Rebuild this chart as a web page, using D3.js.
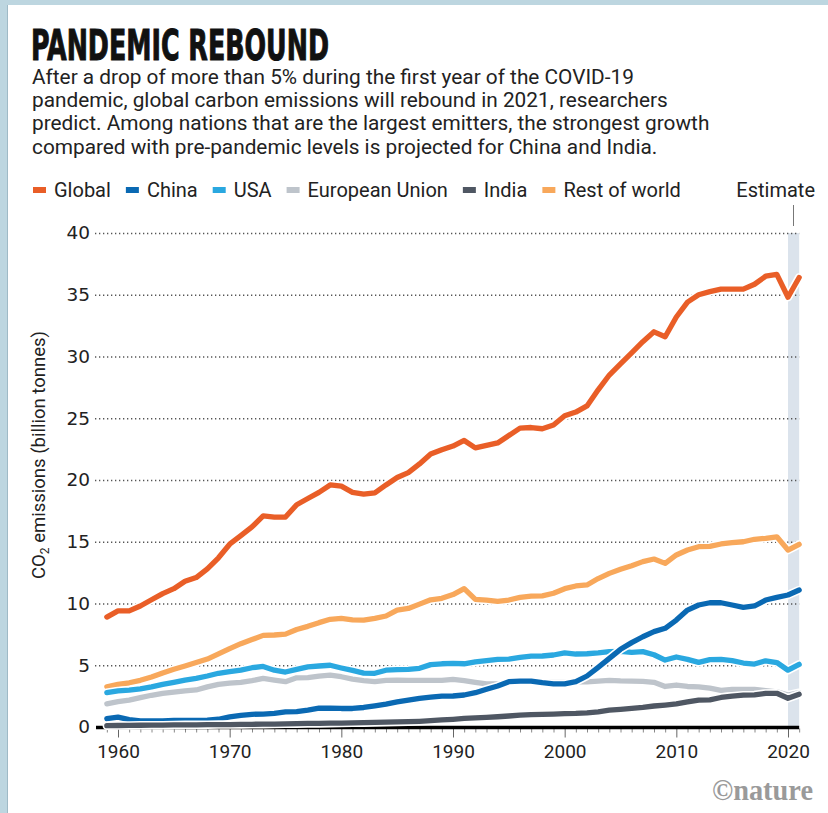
<!DOCTYPE html>
<html>
<head>
<meta charset="utf-8">
<script src="https://cdn.jsdelivr.net/npm/d3@7"></script>
<style>
  html, body { margin: 0; padding: 0; background: #fff; }
  svg { display: block; }
</style>
</head>
<body>
<svg id="chart"></svg>
<script>
// years 1959 - 2021
var years = d3.range(1959, 2022);

var globalVals = [8.9, 9.4, 9.4, 9.8, 10.3, 10.8, 11.2, 11.8, 12.1, 12.8, 13.7,
  14.8, 15.5, 16.2, 17.1, 17.0, 17.0, 18.0, 18.5, 19.0, 19.6,
  19.5, 19.0, 18.85, 18.95, 19.6, 20.2, 20.6, 21.3, 22.1, 22.45,
  22.75, 23.2, 22.6, 22.8, 23.0, 23.6, 24.2, 24.25, 24.15, 24.45,
  25.2, 25.5, 26.0, 27.3, 28.5, 29.4, 30.3, 31.2, 32.0, 31.6,
  33.2, 34.4, 35.0, 35.25, 35.45, 35.45, 35.45, 35.85, 36.5, 36.65,
  34.8, 36.4];

var chinaVals = [0.67, 0.8, 0.6, 0.5, 0.5, 0.5, 0.53, 0.54, 0.54, 0.55, 0.63,
  0.82, 0.95, 1.03, 1.05, 1.1, 1.22, 1.24, 1.37, 1.53, 1.52,
  1.5, 1.5, 1.58, 1.72, 1.86, 2.03, 2.17, 2.32, 2.42, 2.5,
  2.51, 2.59, 2.78, 3.05, 3.32, 3.67, 3.72, 3.72, 3.59, 3.5,
  3.5, 3.67, 4.13, 4.83, 5.56, 6.29, 6.83, 7.31, 7.72, 7.99,
  8.66, 9.47, 9.88, 10.06, 10.06, 9.88, 9.69, 9.8, 10.28, 10.5,
  10.69, 11.09];

var usaVals = [2.78, 2.92, 2.98, 3.08, 3.25, 3.45, 3.62, 3.8, 3.94, 4.13, 4.35,
  4.48, 4.6, 4.8, 4.9, 4.6, 4.45, 4.67, 4.87, 4.94, 5.0,
  4.78, 4.58, 4.36, 4.35, 4.6, 4.65, 4.67, 4.75, 5.05, 5.12,
  5.15, 5.12, 5.27, 5.37, 5.48, 5.5, 5.64, 5.74, 5.75, 5.83,
  6.0, 5.91, 5.93, 6.0, 6.1, 6.12, 6.04, 6.1, 5.85, 5.42,
  5.67, 5.48, 5.23, 5.46, 5.48, 5.37, 5.18, 5.1, 5.36, 5.22,
  4.6, 5.07];

var euVals = [1.88, 2.05, 2.18, 2.38, 2.57, 2.72, 2.82, 2.93, 3.0, 3.25, 3.45,
  3.55, 3.62, 3.75, 3.93, 3.8, 3.67, 3.98, 4.0, 4.12, 4.2,
  4.07, 3.88, 3.76, 3.68, 3.78, 3.8, 3.78, 3.78, 3.77, 3.78,
  3.86, 3.76, 3.62, 3.5, 3.48, 3.6, 3.72, 3.67, 3.67, 3.62,
  3.62, 3.67, 3.66, 3.72, 3.78, 3.73, 3.72, 3.7, 3.62, 3.28,
  3.4, 3.28, 3.25, 3.14, 2.96, 3.04, 3.05, 3.05, 2.95, 2.85,
  2.58, 2.78];

var indiaVals = [0.11, 0.12, 0.13, 0.14, 0.15, 0.15, 0.17, 0.18, 0.18, 0.19, 0.2,
  0.2, 0.21, 0.22, 0.23, 0.24, 0.26, 0.27, 0.29, 0.29, 0.31,
  0.32, 0.34, 0.35, 0.37, 0.39, 0.41, 0.43, 0.46, 0.51, 0.57,
  0.62, 0.69, 0.74, 0.78, 0.83, 0.89, 0.96, 1.01, 1.02, 1.05,
  1.09, 1.1, 1.15, 1.23, 1.36, 1.43, 1.51, 1.59, 1.7, 1.78,
  1.87, 2.03, 2.18, 2.2, 2.39, 2.5, 2.58, 2.6, 2.72, 2.73,
  2.33, 2.65];

var restVals = [3.26, 3.45, 3.58, 3.78, 4.05, 4.38, 4.68, 4.94, 5.22, 5.5, 5.92,
  6.35, 6.75, 7.08, 7.42, 7.45, 7.52, 7.9, 8.15, 8.45, 8.72,
  8.8, 8.68, 8.66, 8.8, 8.99, 9.47, 9.6, 9.95, 10.3, 10.42,
  10.72, 11.2, 10.34, 10.28, 10.18, 10.28, 10.5, 10.6, 10.62, 10.83,
  11.2, 11.42, 11.5, 12.02, 12.44, 12.77, 13.06, 13.39, 13.6, 13.25,
  13.93, 14.33, 14.6, 14.62, 14.82, 14.92, 15.0, 15.2, 15.28, 15.4,
  14.33, 14.79];

var legendNames = ["Global", "China", "USA", "European Union", "India", "Rest of world"];
var yTicks = [0, 5, 10, 15, 20, 25, 30, 35, 40];
var xTicks = [1960, 1970, 1980, 1990, 2000, 2010, 2020];
var estimateYears = [2020, 2021];

var subtitle = [
  "After a drop of more than 5% during the first year of the COVID-19",
  "pandemic, global carbon emissions will rebound in 2021, researchers",
  "predict. Among nations that are the largest emitters, the strongest growth",
  "compared with pre-pandemic levels is projected for China and India."
];

var colors = {
  "Global": "#e95e27",
  "China": "#0a69b3",
  "USA": "#2aa8e0",
  "European Union": "#bec4cb",
  "India": "#4f5763",
  "Rest of world": "#f8a85b"
};

var W = 828, H = 813;
var svg = d3.select("#chart").attr("width", W).attr("height", H);
var font = "Roboto, 'Open Sans', sans-serif";

// frame
svg.append("rect").attr("x", 0).attr("y", 0).attr("width", W).attr("height", H).attr("fill", "#fff");
svg.append("rect").attr("x", 0).attr("y", 0).attr("width", W).attr("height", 5).attr("fill", "#bdd6e0");
svg.append("rect").attr("x", 0).attr("y", 0).attr("width", 7).attr("height", H).attr("fill", "#bdd6e0");
svg.append("line").attr("x1", 7.5).attr("x2", 7.5).attr("y1", 5).attr("y2", H)
  .attr("stroke", "#9fbac6").attr("stroke-width", 1);

// title
svg.append("text")
  .attr("x", 31).attr("y", 60)
  .attr("font-family", "'DejaVu Sans Condensed', 'DejaVu Sans', sans-serif")
  .attr("font-weight", "bold")
  .attr("font-size", 42)
  .attr("fill", "#111")
  .attr("stroke", "#111")
  .attr("stroke-width", 1)
  .attr("textLength", 298)
  .attr("lengthAdjust", "spacingAndGlyphs")
  .text("PANDEMIC REBOUND");

svg.append("g").selectAll("text")
  .data(subtitle)
  .enter().append("text")
    .attr("x", 32)
    .attr("y", function(d, i) { return 84 + i * 23.2; })
    .attr("font-family", font)
    .attr("font-size", 20.8)
    .attr("fill", "#222")
    .text(function(d) { return d; });

// scales
var x = d3.scaleLinear().domain([1960, 2020]).range([118, 788]);
var y = d3.scaleLinear().domain([0, 40]).range([727, 233]);

// estimate band
svg.append("rect")
  .attr("x", x(estimateYears[0]))
  .attr("y", y(40))
  .attr("width", x(estimateYears[1]) - x(estimateYears[0]))
  .attr("height", y(0) - y(40))
  .attr("fill", "#dbe3ec");

// gridlines
var grid = svg.append("g")
  .attr("transform", "translate(95,0)")
  .call(d3.axisLeft(y).tickValues(yTicks.slice(1)).tickSize(-(x(2021) - 95)).tickFormat(""));
grid.select(".domain").remove();
grid.selectAll("line")
  .attr("stroke", "#555")
  .attr("stroke-width", 1.3)
  .attr("stroke-dasharray", "1.3,2.7");

// y labels
var yAxis = svg.append("g")
  .attr("transform", "translate(90,0)")
  .call(d3.axisLeft(y).tickValues(yTicks).tickSize(0).tickPadding(0));
yAxis.select(".domain").remove();
yAxis.selectAll("text")
  .attr("font-family", "'DejaVu Sans', sans-serif")
  .attr("font-size", 18.5)
  .attr("fill", "#222");

// y title
var yt = svg.append("text")
  .attr("transform", "translate(45,455) rotate(-90)")
  .attr("text-anchor", "middle")
  .attr("font-family", font)
  .attr("font-size", 18.5)
  .attr("fill", "#222");
yt.append("tspan").text("CO");
yt.append("tspan").attr("font-size", 12).attr("dy", 4).text("2");
yt.append("tspan").attr("dy", -4).text(" emissions (billion tonnes)");

// x axis ticks
var xAxis = svg.append("g")
  .attr("transform", "translate(0," + (y(0) + 1.5) + ")")
  .call(d3.axisBottom(x).tickValues(years).tickSize(4).tickFormat(""));
xAxis.select(".domain").remove();
xAxis.selectAll("line").attr("stroke", "#888").attr("stroke-width", 1);
xAxis.selectAll(".tick")
  .filter(function(d) { return d % 10 === 0; })
  .select("line").attr("y2", 9).attr("stroke", "#666");

var xLabels = svg.append("g")
  .attr("transform", "translate(0," + (y(0) + 14) + ")")
  .call(d3.axisBottom(x).tickValues(xTicks).tickSize(0).tickFormat(d3.format("d")));
xLabels.select(".domain").remove();
xLabels.selectAll("text")
  .attr("font-family", font)
  .attr("font-size", 19)
  .attr("fill", "#222");

// baseline
svg.append("line")
  .attr("x1", 96).attr("x2", x(2021))
  .attr("y1", y(0) + 0.5).attr("y2", y(0) + 0.5)
  .attr("stroke", "#000").attr("stroke-width", 3.5);

// lines
var series = [
  {name: "Rest of world", values: restVals},
  {name: "European Union", values: euVals},
  {name: "USA", values: usaVals},
  {name: "China", values: chinaVals},
  {name: "India", values: indiaVals},
  {name: "Global", values: globalVals}
];

var line = d3.line()
  .x(function(d, i) { return x(years[i]); })
  .y(function(d) { return y(d); });

var lines = svg.append("g");
series.forEach(function(s) {
  lines.append("path")
    .attr("d", line(s.values))
    .attr("fill", "none")
    .attr("stroke", "#fff")
    .attr("stroke-width", 8.5)
    .attr("stroke-linejoin", "round")
    .attr("stroke-linecap", "round");
  lines.append("path")
    .attr("d", line(s.values))
    .attr("fill", "none")
    .attr("stroke", colors[s.name])
    .attr("stroke-width", 5.3)
    .attr("stroke-linejoin", "round")
    .attr("stroke-linecap", "round");
});

// legend
var legend = svg.append("g").attr("transform", "translate(33,190)");
var lx = 0;
legendNames.forEach(function(n) {
  legend.append("rect")
    .attr("x", lx).attr("y", -3)
    .attr("width", 13).attr("height", 6)
    .attr("fill", colors[n]);
  var t = legend.append("text")
    .attr("x", lx + 21).attr("y", 7)
    .attr("font-family", font)
    .attr("font-size", 20)
    .attr("fill", "#222")
    .text(n);
  lx += 21 + t.node().getComputedTextLength() + 15;
});

svg.append("text")
  .attr("x", 815).attr("y", 197)
  .attr("text-anchor", "end")
  .attr("font-family", font)
  .attr("font-size", 20)
  .attr("fill", "#222")
  .text("Estimate");
svg.append("line")
  .attr("x1", 793.5).attr("x2", 793.5)
  .attr("y1", 205).attr("y2", 226)
  .attr("stroke", "#777").attr("stroke-width", 1);

// logo
svg.append("text")
  .attr("x", 813).attr("y", 800)
  .attr("text-anchor", "end")
  .attr("font-family", "'Liberation Serif', 'DejaVu Serif', serif")
  .attr("font-weight", "bold")
  .attr("font-size", 30)
  .attr("fill", "#9a9a9a")
  .attr("textLength", 101)
  .attr("lengthAdjust", "spacingAndGlyphs")
  .text("\u00a9nature");
</script>
</body>
</html>
